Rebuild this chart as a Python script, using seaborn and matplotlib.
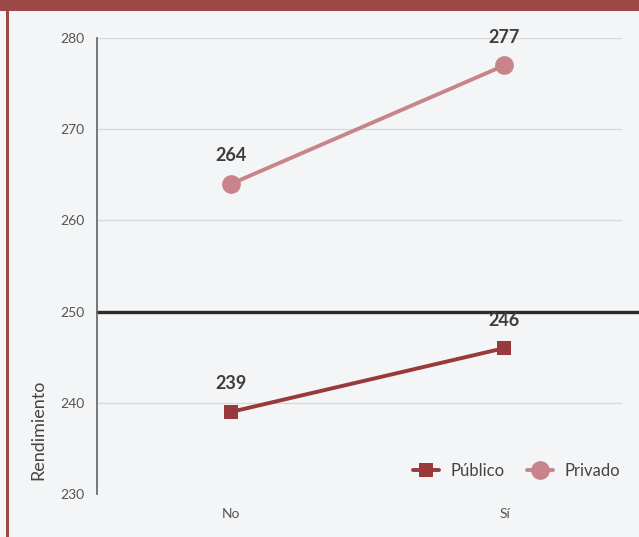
import matplotlib
matplotlib.use("Agg")
import matplotlib.pyplot as plt
import seaborn as sns
import pandas as pd
from matplotlib.patches import Rectangle

categorias = ["No", "Sí"]
publico = [239, 246]
privado = [264, 277]
series = ["Público", "Privado"]
yticks = [230, 240, 250, 260, 270, 280]
referencia = 250

rows = []
for c, v in zip(categorias, publico):
    rows.append({"Categoria": c, "Tipo": "Público", "Rendimiento": v})
for c, v in zip(categorias, privado):
    rows.append({"Categoria": c, "Tipo": "Privado", "Rendimiento": v})
df = pd.DataFrame(rows)

sns.set_style("white")
plt.rcParams["font.family"] = ["Lato", "DejaVu Sans"]

bg = "#f4f5f6"
border = "#9c4846"
c_pub = "#983a3c"
c_priv = "#c9848b"

fig = plt.figure(figsize=(6.39, 5.37), dpi=100, facecolor=bg)
ax = fig.add_axes([97/639, 43/537, 525/639, 456/537])
ax.set_facecolor(bg)

sns.lineplot(data=df, x="Categoria", y="Rendimiento", hue="Tipo", style="Tipo",
             hue_order=series, style_order=series,
             palette={"Público": c_pub, "Privado": c_priv},
             markers={"Público": "s", "Privado": "o"}, dashes=False,
             markeredgewidth=0, linewidth=2.8, ax=ax, legend=True)
for line in ax.lines:
    if line.get_marker() == "s":
        line.set_markersize(10.5)
    elif line.get_marker() == "o":
        line.set_markersize(13.5)

ax.set_ylim(230, 280)
ax.set_xlim(-0.49, 1.43)
ax.set_yticks(yticks)
ax.set_yticklabels([str(t) for t in yticks])
ax.tick_params(axis="y", length=0, labelsize=10, colors="#555555", pad=9)
ax.tick_params(axis="x", length=0, labelsize=10, colors="#555555", pad=10)
ax.grid(axis="y", color="#d6d8da", linewidth=0.9)
ax.set_axisbelow(True)
for s in ["top", "right", "bottom"]:
    ax.spines[s].set_visible(False)
ax.spines["left"].set_color("#6a6e72")
ax.spines["left"].set_linewidth(1.3)
ax.set_xlabel("")
ax.set_ylabel("")

ax.axhline(referencia, xmin=0, xmax=1.05, color="#2b2b2b", linewidth=2.4, clip_on=False, zorder=1)

for i, v in enumerate(publico):
    ax.annotate(str(v), (i, v), xytext=(0, 14), textcoords="offset points",
                ha="center", va="bottom", fontsize=13, fontweight="bold", color="#3d3d3d")
for i, v in enumerate(privado):
    ax.annotate(str(v), (i, v), xytext=(0, 14), textcoords="offset points",
                ha="center", va="bottom", fontsize=13, fontweight="bold", color="#3d3d3d")

leg = ax.legend(loc="center right", bbox_to_anchor=(1.01, (494 - 471) / 456), ncol=2, frameon=False,
                fontsize=12, handlelength=1.6, columnspacing=1.3, handletextpad=0.7,
                borderaxespad=0)
for t in leg.get_texts():
    t.set_color("#444444")

fig.text(38/639, 1 - 430/537, "Rendimiento", rotation=90, ha="center", va="center",
         fontsize=13, color="#444444")

fig.patches.append(Rectangle((0, 1 - 11/537), 1, 11/537, transform=fig.transFigure,
                             facecolor=border, edgecolor="none", zorder=0))
fig.patches.append(Rectangle((6/639, 0), 3/639, 1, transform=fig.transFigure,
                             facecolor=border, edgecolor="none", zorder=0))

fig.savefig("out.png", dpi=100, facecolor=bg)
